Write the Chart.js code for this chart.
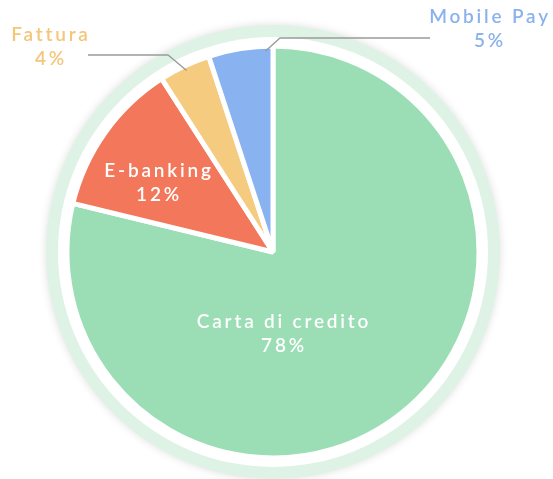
<!DOCTYPE html>
<html>
<head>
<meta charset="utf-8">
<script src="https://cdn.jsdelivr.net/npm/chart.js@4/dist/chart.umd.min.js"></script>
<style>
  html, body { margin: 0; padding: 0; background: #fff; }
  #wrap { width: 553px; height: 479px; }
</style>
</head>
<body>
<div id="wrap"><canvas id="myChart" width="553" height="479"></canvas></div>
<script>
// Dati del grafico
const labels = ['Carta di credito', 'E-banking', 'Fattura', 'Mobile Pay'];
const values = [78, 12, 4, 5];
const colors = ['#9BDDB4', '#F3775A', '#F5CB7F', '#89B2F1'];
const textColors = ['#ffffff', '#ffffff', '#F4C67B', '#8AB2EC'];

const FONT = '600 19px Lato';

// anello esterno verde chiaro con ombra
const ringPlugin = {
    id: 'ring',
    beforeDatasetsDraw(chart) {
        const arc = chart.getDatasetMeta(0).data[0];
        const ctx = chart.ctx;
        ctx.save();
        ctx.shadowColor = 'rgba(0,0,0,0.13)';
        ctx.shadowBlur = 8;
        ctx.beginPath();
        ctx.arc(arc.x, arc.y, 227, 0, Math.PI * 2);
        ctx.fillStyle = '#DEF3E6';
        ctx.fill();
        ctx.restore();
        ctx.save();
        ctx.beginPath();
        ctx.arc(arc.x, arc.y, 215, 0, Math.PI * 2);
        ctx.fillStyle = '#ffffff';
        ctx.fill();
        ctx.restore();
    }
};

function drawLabel(ctx, text, pct, x, y, color) {
    ctx.fillStyle = color;
    ctx.fillText(text, x, y);
    ctx.fillText(pct + '%', x, y + 24);
}

// etichette: interne per le fette grandi, con linea per quelle piccole
const labelPlugin = {
    id: 'sliceLabels',
    afterDatasetsDraw(chart) {
        const ctx = chart.ctx;
        const meta = chart.getDatasetMeta(0);
        const cx = meta.data[0].x, cy = meta.data[0].y;
        const R = 203;
        ctx.save();
        ctx.font = FONT;
        ctx.letterSpacing = '2.8px';
        ctx.textAlign = 'center';
        ctx.textBaseline = 'middle';

        // interne (scostamento dal centro)
        const inside = [
            { i: 0, dx: 11, dy: 70 },
            { i: 1, dx: -114, dy: -81 }
        ];
        inside.forEach(p => {
            drawLabel(ctx, labels[p.i], values[p.i], cx + p.dx, cy + p.dy, textColors[p.i]);
        });

        // esterne con linea
        const callouts = [
            { i: 2, frac: 0.5, elbow: [168, 55], end: 88, tx: 51, ty: 35 },
            { i: 3, frac: 0.12, elbow: [280, 38], end: 430, tx: 490, ty: 17 }
        ];
        callouts.forEach(c => {
            const a = meta.data[c.i];
            const ang = a.startAngle + (a.endAngle - a.startAngle) * (1 - c.frac);
            const sx = cx + Math.cos(ang) * (R - 2);
            const sy = cy + Math.sin(ang) * (R - 2);
            ctx.beginPath();
            ctx.moveTo(sx, sy);
            ctx.lineTo(c.elbow[0], c.elbow[1]);
            ctx.lineTo(c.end, c.elbow[1]);
            ctx.strokeStyle = '#9a9a9a';
            ctx.lineWidth = 1.3;
            ctx.stroke();
            drawLabel(ctx, labels[c.i], values[c.i], c.tx, c.ty, textColors[c.i]);
        });
        ctx.restore();
    }
};

const ctx = document.getElementById('myChart').getContext('2d');

new Chart(ctx, {
    type: 'pie',
    data: {
        labels: labels,
        datasets: [{
            data: values,
            backgroundColor: colors,
            borderColor: '#ffffff',
            borderWidth: 5,
            radius: 206
        }]
    },
    options: {
        responsive: false,
        animation: false,
        layout: {
            padding: { left: 58, right: 65, top: 37, bottom: 12 }
        },
        plugins: {
            legend: { display: false },
            tooltip: { enabled: false }
        }
    },
    plugins: [ringPlugin, labelPlugin]
});
</script>
</body>
</html>
